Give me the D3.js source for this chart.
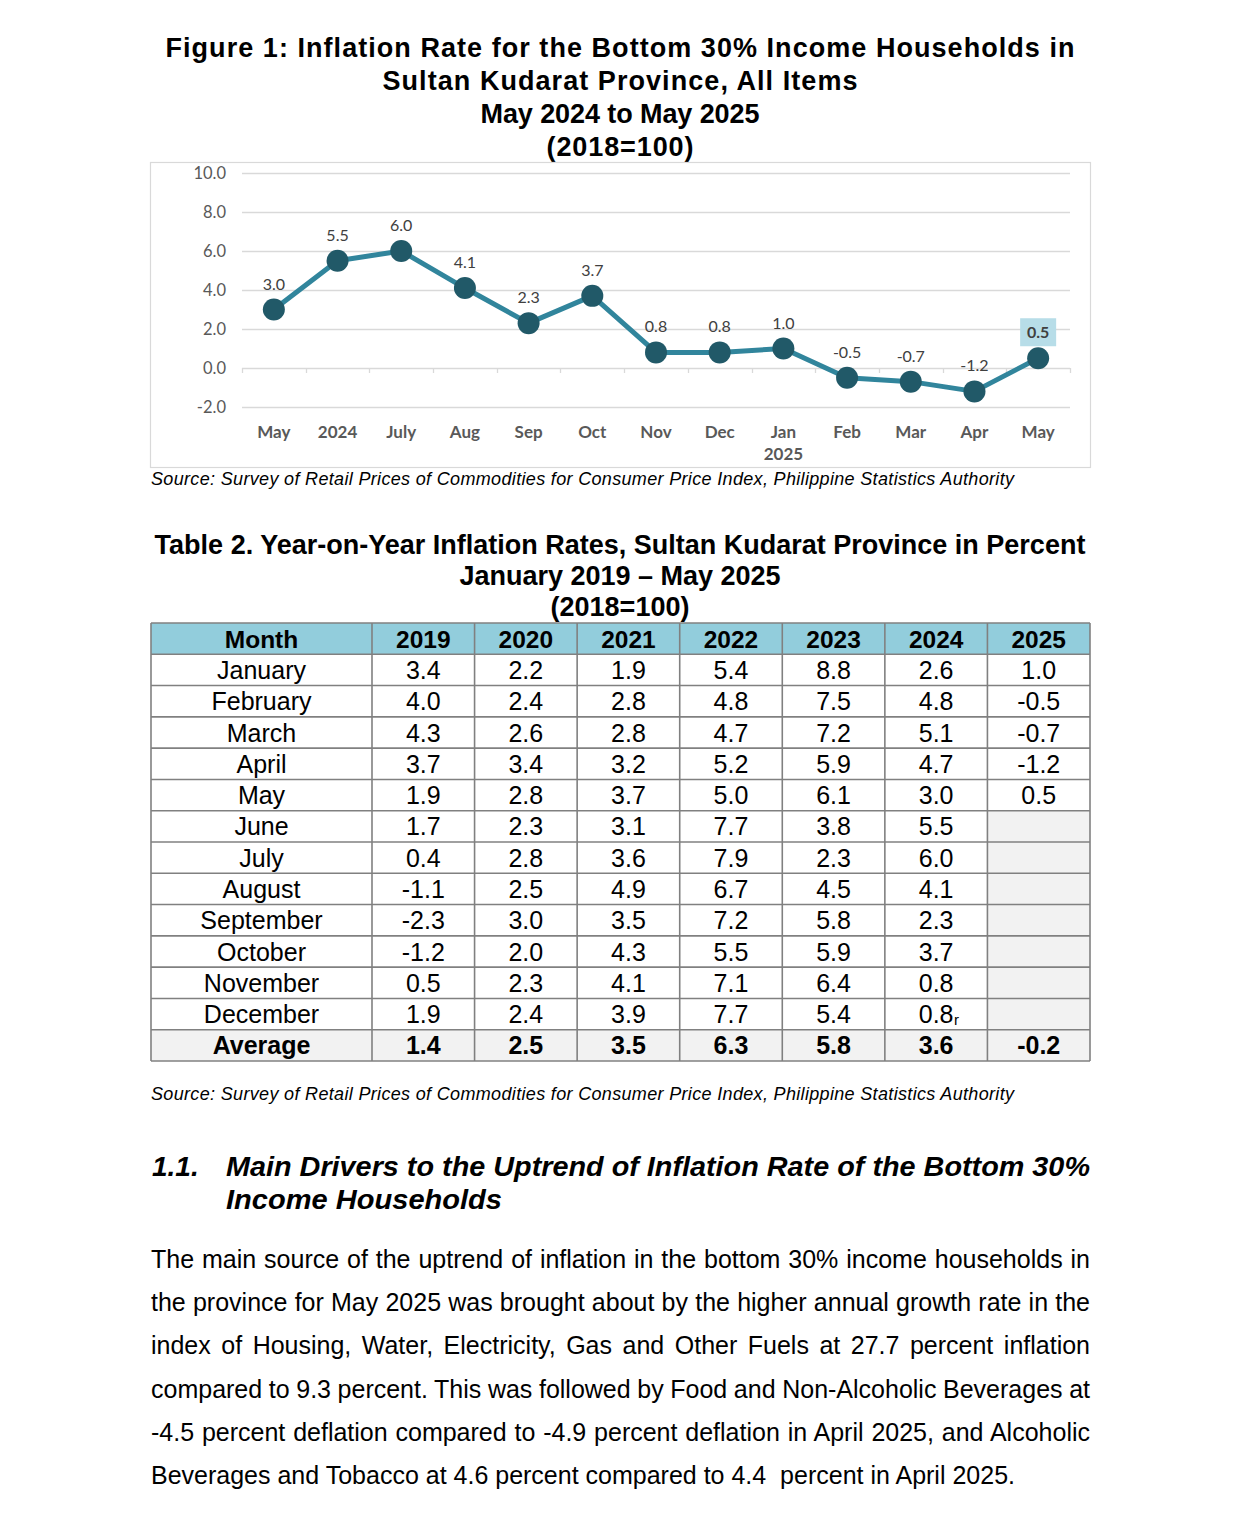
<!DOCTYPE html>
<html><head><meta charset="utf-8">
<script src="https://cdn.jsdelivr.net/npm/d3@7"></script>
<style>body{margin:0;background:#fff}svg{display:block}</style>
</head><body>
<svg id="page" width="1241" height="1518"></svg>
<script>
// ---------- Figure 1 data ----------
const chartLabels = ["May","2024","July","Aug","Sep","Oct","Nov","Dec","Jan","Feb","Mar","Apr","May"];
const chartSubLabels = ["","","","","","","","","2025","","","",""];
const chartValues = [3.0,5.5,6.0,4.1,2.3,3.7,0.8,0.8,1.0,-0.5,-0.7,-1.2,0.5];
const yTickValues = [-2,0,2,4,6,8,10];
const figureTitle = ["Figure 1: Inflation Rate for the Bottom 30% Income Households in","Sultan Kudarat Province, All Items","May 2024 to May 2025","(2018=100)"];
const sourceText = "Source: Survey of Retail Prices of Commodities for Consumer Price Index, Philippine Statistics Authority";

// ---------- Table 2 data ----------
const tableTitle = ["Table 2. Year-on-Year Inflation Rates, Sultan Kudarat Province in Percent","January 2019 \u2013 May 2025","(2018=100)"];
const tableYears = ["2019","2020","2021","2022","2023","2024","2025"];
const tableMonths = ["January","February","March","April","May","June","July","August","September","October","November","December"];
const y2019 = ["3.4","4.0","4.3","3.7","1.9","1.7","0.4","-1.1","-2.3","-1.2","0.5","1.9"];
const y2020 = ["2.2","2.4","2.6","3.4","2.8","2.3","2.8","2.5","3.0","2.0","2.3","2.4"];
const y2021 = ["1.9","2.8","2.8","3.2","3.7","3.1","3.6","4.9","3.5","4.3","4.1","3.9"];
const y2022 = ["5.4","4.8","4.7","5.2","5.0","7.7","7.9","6.7","7.2","5.5","7.1","7.7"];
const y2023 = ["8.8","7.5","7.2","5.9","6.1","3.8","2.3","4.5","5.8","5.9","6.4","5.4"];
const y2024 = ["2.6","4.8","5.1","4.7","3.0","5.5","6.0","4.1","2.3","3.7","0.8","0.8"];
const y2025 = ["1.0","-0.5","-0.7","-1.2","0.5",null,null,null,null,null,null,null];
const tableAverages = ["1.4","2.5","3.5","6.3","5.8","3.6","-0.2"];
const revisedCells = [{year:"2024", month:"December"}];

// ---------- Text section ----------
const headingNum = "1.1.";
const headingLines = ["Main Drivers to the Uptrend of Inflation Rate of the Bottom 30%","Income Households"];
const paragraphLines = [
 "The main source of the uptrend of inflation in the bottom 30% income households in",
 "the province for May 2025 was brought about by the higher annual growth rate in the",
 "index of Housing, Water, Electricity, Gas and Other Fuels at 27.7 percent inflation",
 "compared to 9.3 percent. This was followed by Food and Non-Alcoholic Beverages at",
 "-4.5 percent deflation compared to -4.9 percent deflation in April 2025, and Alcoholic",
 "Beverages and Tobacco at 4.6 percent compared to 4.4  percent in April 2025."
];

const svg = d3.select("#page");
const ARIAL = "'Liberation Sans', Arial, sans-serif";
const CAL = "Lato, 'Open Sans', sans-serif";

// ---------- Figure title ----------
const figTitleW = [909, 475, 279, 147];
svg.append("g").selectAll("text").data(figureTitle).join("text")
  .attr("x", 620).attr("y", (d,i)=>57 + i*33)
  .attr("text-anchor","middle").attr("font-family",ARIAL).attr("font-weight","bold")
  .attr("font-size",27).attr("fill","#000")
  .attr("textLength",(d,i)=>figTitleW[i]).attr("lengthAdjust","spacing").text(d=>d);

// ---------- Chart ----------
const box = {x0:150, y0:162, x1:1091, y1:468};
svg.append("rect").attr("x",box.x0+0.5).attr("y",box.y0+0.5).attr("width",box.x1-box.x0-1).attr("height",box.y1-box.y0-1)
  .attr("fill","#fff").attr("stroke","#d9d9d9").attr("stroke-width",1.2);

const x = d3.scaleBand().domain(d3.range(chartValues.length)).range([242,1070]);
const y = d3.scaleLinear().domain([-2,10]).range([407,173]);
const cx = i => x(i) + x.bandwidth()/2;

const g = svg.append("g");
g.selectAll("line.grid").data(yTickValues).join("line").attr("class","grid")
  .attr("x1",242).attr("x2",1070).attr("y1",d=>Math.round(y(d))+0.5).attr("y2",d=>Math.round(y(d))+0.5)
  .attr("stroke","#d9d9d9").attr("stroke-width",1.3);
const yAxis = d3.axisLeft(y).tickValues(yTickValues).tickFormat(d=>d3.format(".1f")(d).replace("\u2212","-")).tickSize(0).tickPadding(0);
const ya = g.append("g").attr("transform","translate(226,0)").call(yAxis);
ya.select(".domain").remove();
ya.selectAll("text").attr("font-family",CAL).attr("font-size",16.5).attr("fill","#595959");
const bounds = d3.range(chartValues.length+1).map(i => i<chartValues.length ? x(i) : x(i-1)+x.bandwidth());
g.selectAll("line.xt").data(bounds).join("line").attr("class","xt")
  .attr("x1",d=>Math.round(d)+0.5).attr("x2",d=>Math.round(d)+0.5)
  .attr("y1",y(0)).attr("y2",y(0)+5).attr("stroke","#d9d9d9").attr("stroke-width",1.3);
const xAxis = d3.axisBottom(x).tickFormat(i=>chartLabels[i]).tickSize(0).tickPadding(0);
const xa = g.append("g").attr("transform","translate(0,426)").call(xAxis);
xa.select(".domain").remove();
xa.selectAll("text").attr("font-family",CAL).attr("font-weight","bold").attr("font-size",17).attr("fill","#595959");
g.selectAll("text.sub").data(chartSubLabels).join("text").attr("class","sub")
  .attr("x",(d,i)=>cx(i)).attr("y",460).attr("text-anchor","middle")
  .attr("font-family",CAL).attr("font-weight","bold").attr("font-size",17).attr("fill","#595959").text(d=>d);

const line = d3.line().x((d,i)=>cx(i)).y(d=>y(d));
g.append("path").datum(chartValues).attr("d",line).attr("fill","none")
  .attr("stroke","#31859C").attr("stroke-width",5).attr("stroke-linejoin","round");
g.selectAll("circle").data(chartValues).join("circle")
  .attr("cx",(d,i)=>cx(i)).attr("cy",d=>y(d)).attr("r",11).attr("fill","#215968");
const last = chartValues.length-1;
g.append("rect").attr("x",cx(last)-18).attr("y",y(chartValues[last])-40).attr("width",36).attr("height",28).attr("fill","#b7dde8");
g.selectAll("text.lbl").data(chartValues).join("text").attr("class","lbl")
  .attr("x",(d,i)=>cx(i)).attr("y",d=>y(d)-20)
  .attr("text-anchor","middle").attr("font-family",CAL).attr("font-size",16)
  .attr("font-weight",(d,i)=>i===last?"bold":"normal")
  .attr("fill","#404040").text(d=>d3.format(".1f")(d).replace("\u2212","-"));

svg.append("text").attr("x",151).attr("y",485).attr("font-family",ARIAL).attr("font-style","italic")
  .attr("font-size",18).attr("textLength",863).attr("lengthAdjust","spacing").text(sourceText);

// ---------- Table ----------
svg.append("g").selectAll("text").data(tableTitle).join("text")
  .attr("x",620).attr("y",(d,i)=>554+i*31).attr("text-anchor","middle")
  .attr("font-family",ARIAL).attr("font-weight","bold").attr("font-size",27).text(d=>d);

const colEdges = [151,372].concat(d3.range(1,8).map(k=>372+k*(1090-372)/7));
const tTop = 623, rowH = (1061-623)/14;
const yearCols = [y2019,y2020,y2021,y2022,y2023,y2024,y2025];
const rows = [];
rows.push({type:"head", cells:["Month"].concat(tableYears)});
tableMonths.forEach((m,r)=>rows.push({type:"body", month:m, cells:[m].concat(yearCols.map(c=>c[r]))}));
rows.push({type:"avg", cells:["Average"].concat(tableAverages)});

const tg = svg.append("g");
rows.forEach((row,ri)=>{
  const ry = tTop + ri*rowH;
  row.cells.forEach((c,ci)=>{
    const xL = colEdges[ci], xR = colEdges[ci+1];
    let fill = "#fff";
    if(row.type==="head") fill="#92cddc";
    else if(row.type==="avg") fill="#f2f2f2";
    else if(c===null) fill="#f2f2f2";
    tg.append("rect").attr("x",xL).attr("y",ry).attr("width",xR-xL).attr("height",rowH).attr("fill",fill);
    if(c!==null){
      const isRev = row.type==="body" && ci>0 && revisedCells.some(r=>r.year===tableYears[ci-1] && r.month===row.month);
      const t = tg.append("text").attr("x",(xL+xR)/2).attr("y",ry+rowH/2+9).attr("text-anchor","middle")
        .attr("font-family",ARIAL).attr("font-size",row.type==="head"?24.5:25).attr("fill","#000")
        .attr("font-weight",row.type==="body"?"normal":"bold").text(c);
      if(isRev){
        const w = t.node().getComputedTextLength();
        tg.append("text").attr("x",(xL+xR)/2+w/2+0.5).attr("y",ry+rowH/2+11)
          .attr("font-family",ARIAL).attr("font-size",15).text("r");
      }
    }
  });
});
const rowEdges = d3.range(rows.length+1).map(i=>tTop+i*rowH);
tg.selectAll("line.h").data(rowEdges).join("line").attr("class","h")
  .attr("x1",151).attr("x2",1090).attr("y1",d=>d).attr("y2",d=>d).attr("stroke","#808080").attr("stroke-width",1.6);
tg.selectAll("line.v").data(colEdges).join("line").attr("class","v")
  .attr("x1",d=>d).attr("x2",d=>d).attr("y1",tTop).attr("y2",tTop+rows.length*rowH).attr("stroke","#808080").attr("stroke-width",1.6);

svg.append("text").attr("x",151).attr("y",1100).attr("font-family",ARIAL).attr("font-style","italic")
  .attr("font-size",18).attr("textLength",863).attr("lengthAdjust","spacing").text(sourceText);

// ---------- Heading ----------
svg.append("text").attr("x",152).attr("y",1176).attr("font-family",ARIAL).attr("font-style","italic").attr("font-weight","bold")
  .attr("font-size",28).text(headingNum);
svg.append("g").selectAll("text").data(headingLines).join("text")
  .attr("x",226).attr("y",(d,i)=>1176+i*33).attr("font-family",ARIAL).attr("font-style","italic").attr("font-weight","bold")
  .attr("font-size",28).attr("textLength",(d,i)=>i===0?864:276).attr("lengthAdjust","spacingAndGlyphs").text(d=>d);

// ---------- Paragraph ----------
const pW = 1090-151;
svg.append("g").selectAll("text").data(paragraphLines).join("text")
  .attr("x",151).attr("y",(d,i)=>1268+i*43.2).attr("font-family",ARIAL).attr("font-size",25).attr("fill","#000")
  .style("white-space","pre")
  .text(d=>d)
  .each(function(d,i){
    if(i===paragraphLines.length-1) return;
    const w = this.getComputedTextLength();
    const spaces = (d.match(/ /g)||[]).length;
    d3.select(this).attr("word-spacing",(pW-w)/spaces);
  });
</script>
</body></html>
